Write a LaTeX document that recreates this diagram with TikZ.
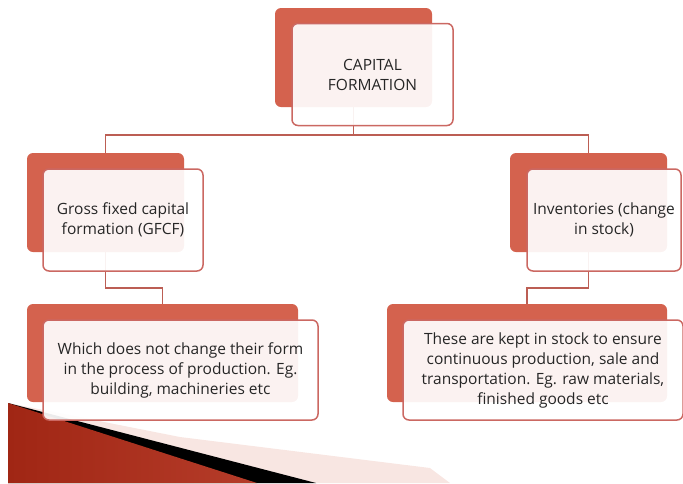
\documentclass[tikz,border=0pt]{standalone}
\usepackage{fontspec}
\setmainfont{Open Sans}
\usetikzlibrary{positioning}
\definecolor{brick}{RGB}{212,98,78}
\definecolor{rose}{RGB}{203,104,98}
\definecolor{linkred}{RGB}{188,94,84}
\definecolor{textgray}{RGB}{38,38,38}
\definecolor{wedgedark}{RGB}{160,38,20}
\definecolor{wedgelight}{RGB}{232,112,92}
\definecolor{wedgepink}{RGB}{248,230,226}
\pgfdeclarelayer{background}
\pgfsetlayers{background,main}

\begin{document}
\begin{tikzpicture}[
  x=1pt, y=-1pt,
  backbox/.style={rectangle, fill=brick, rounded corners=6pt, minimum height=99pt},
  frontbox/.style={rectangle, draw=rose, line width=1.5pt, fill=white, fill opacity=0.92,
                   text opacity=1, rounded corners=6pt, align=center, text=textgray,
                   font=\fontsize{15.5}{20}\selectfont, minimum height=102pt, inner sep=1pt},
  link/.style={draw=linkred, line width=1.6pt}
]
\useasboundingbox (0,0) rectangle (683,483);
% level 0
\node[backbox, minimum width=157pt] (capb) at (353.5,57.5) {};
\node[frontbox, minimum width=161pt] (capf) at ([shift={(19,17)}]capb.center) {CAPITAL\\FORMATION};
% level 1
\node[backbox, minimum width=157pt] (gfcfb) at (105.5,202.5) {};
\node[frontbox, minimum width=160pt] (gfcff) at ([shift={(17.5,17.5)}]gfcfb.center) {Gross fixed capital\\formation (GFCF)};
\node[backbox, minimum width=157pt] (invb) at (588.5,202.5) {};
\node[frontbox, minimum width=154pt] (invf) at ([shift={(15.5,17.5)}]invb.center) {Inventories (change\\in stock)};
% level 2
\node[backbox, minimum width=271pt, minimum height=98pt] (fixdb) at (162.5,353) {};
\node[frontbox, minimum width=275pt, minimum height=100pt] (fixdf) at ([shift={(18,17)}]fixdb.center)
  {Which does not change their form\\in the process of production. Eg.\\building, machineries etc};
\node[backbox, minimum width=280pt, minimum height=98pt] (stockb) at (527,353) {};
\node[frontbox, minimum width=280pt, minimum height=100pt] (stockf) at ([shift={(16,17)}]stockb.center)
  {These are kept in stock to ensure\\continuous production, sale and\\transportation. Eg. raw materials,\\finished goods etc};
\begin{pgfonlayer}{background}
  % corner wedge
  \fill[wedgepink] (8,403) -- (180,437) -- (430,468) -- (450,483) -- (8,483) -- cycle;
  \fill[black] (8,403) -- (316,483) -- (8,483) -- cycle;
  \shade[left color=wedgedark, middle color=wedgelight, right color=wedgedark!70!wedgelight]
    (8,403) -- (257,483) -- (8,483) -- cycle;
  % connectors
  \draw[link] (capb.south) -- ++(0,28) -| (gfcfb.north);
  \draw[link] (capb.south) -- ++(0,28) -| (invb.north);
  \draw[link] (gfcfb.south) -- ++(0,36) -| (fixdb.north);
  \draw[link] (invb.south) -- ++(0,36) -| (stockb.north);
\end{pgfonlayer}
\end{tikzpicture}
\end{document}
